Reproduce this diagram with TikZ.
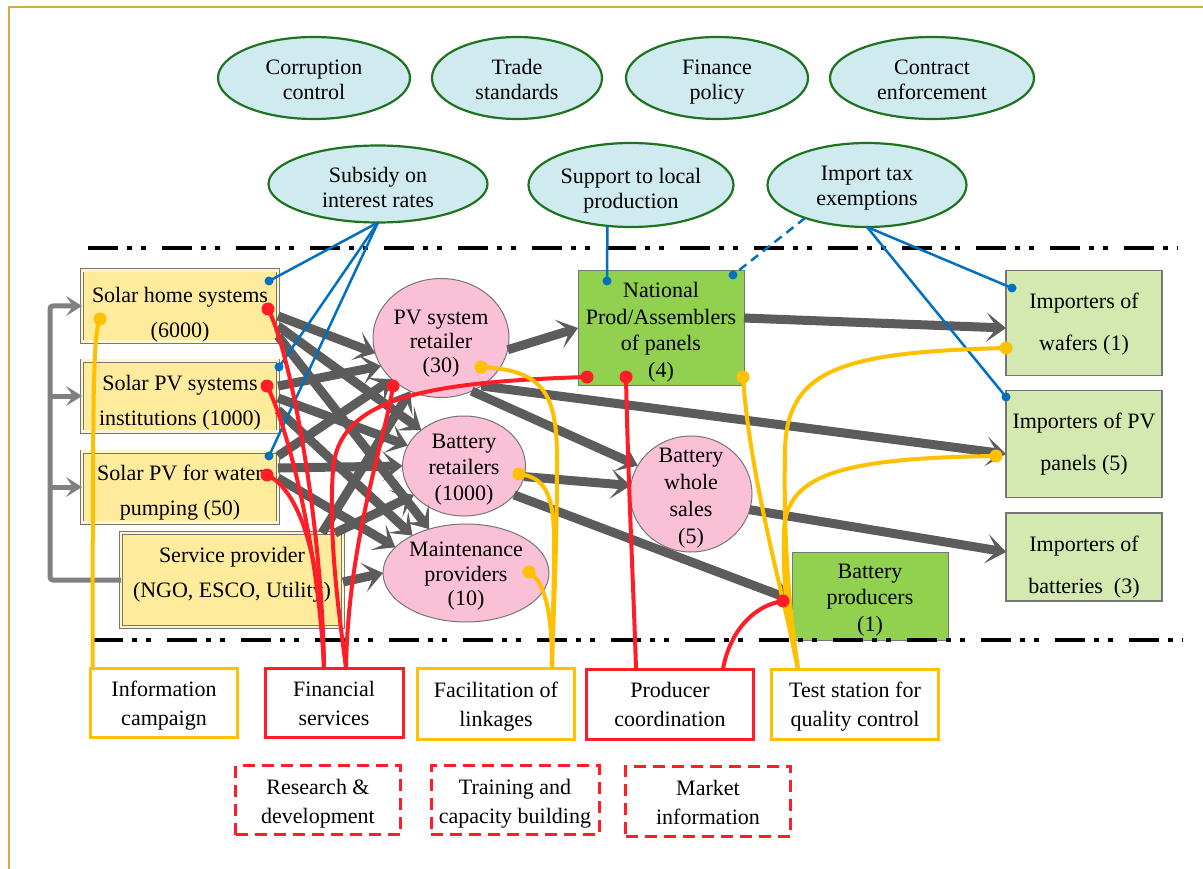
\documentclass[tikz,border=0pt]{standalone}
\usepackage{fontspec}
\setmainfont{Liberation Serif}
\usetikzlibrary{shapes.geometric,arrows.meta}
\definecolor{framec}{RGB}{214,170,60}
\definecolor{polfill}{RGB}{208,235,240}
\definecolor{poldraw}{RGB}{30,115,30}
\definecolor{boxyel}{RGB}{255,235,156}
\definecolor{pinkf}{RGB}{250,192,214}
\definecolor{greenf}{RGB}{146,208,80}
\definecolor{lgreenf}{RGB}{211,233,176}
\definecolor{bordgray}{RGB}{118,118,118}
\definecolor{arrgray}{RGB}{92,92,92}
\definecolor{brkgray}{RGB}{128,128,128}
\definecolor{lblue}{RGB}{0,112,192}
\definecolor{lred}{RGB}{255,30,40}
\definecolor{lyel}{RGB}{255,192,0}
\newcommand{\mytxt}[2][-9pt]{\raisebox{#1}[0pt][0pt]{\begin{tabular}{@{}c@{}}#2\end{tabular}}}
\tikzset{
 nb/.style={inner sep=0pt, outer sep=0pt},
 pol/.style={nb, ellipse, draw=poldraw, line width=2.2pt, fill=polfill, font=\fontsize{22}{25}\selectfont},
 lbox/.style={nb, rectangle, draw=bordgray, line width=0.9pt, double=boxyel!50!white, double distance=2.2pt, fill=boxyel, minimum width=196pt, minimum height=71pt, font=\fontsize{22}{35}\selectfont},
 pinkell/.style={nb, ellipse, draw=bordgray, line width=1pt, fill=pinkf},
 gbox/.style={nb, rectangle, draw=bordgray, line width=1pt, fill=greenf, font=\fontsize{22}{26.5}\selectfont},
 lgbox/.style={nb, rectangle, draw=bordgray, line width=1.2pt, fill=lgreenf, minimum width=156pt, font=\fontsize{22}{42}\selectfont},
 ybox/.style={nb, rectangle, draw=lyel, line width=3pt, fill=white, font=\fontsize{22}{29}\selectfont},
 rbox/.style={nb, rectangle, draw=lred, line width=3pt, fill=white, font=\fontsize{22}{29}\selectfont},
 rdbox/.style={rbox, dash pattern=on 12pt off 7pt},
 ga/.style={draw=arrgray, line width=9pt, -{Stealth[length=20pt,width=30pt,inset=11pt,line width=0pt]}},
 brk/.style={draw=brkgray, line width=5pt},
 brka/.style={brk, -{Stealth[length=16pt,width=20pt,inset=7pt,line width=0pt]}},
 bl/.style={draw=lblue, line width=2.5pt},
 rl/.style={draw=lred, line width=4pt},
 yl/.style={draw=lyel, line width=4pt},
 dd/.style={draw=black, line width=4pt, dash pattern=on 30pt off 9pt on 5pt off 9pt on 5pt off 16pt},
}
\begin{document}
\begin{tikzpicture}[x=1pt,y=-1pt]
\useasboundingbox (0,0) rectangle (1203,869);
\fill[white] (0,0) rectangle (1203,869);
\draw[framec, line width=2.5pt] (9,869) -- (9,7) -- (1203,7);

% policy ellipses
\node[pol, minimum width=192pt, minimum height=82pt] (cc) at (314,78) {\mytxt[-9.5pt]{Corruption\\control}};
\node[pol, minimum width=170pt, minimum height=82pt] (ts) at (517,78) {\mytxt[-9.5pt]{Trade\\standards}};
\node[pol, minimum width=182pt, minimum height=82pt] (fp) at (717,78) {\mytxt[-9.5pt]{Finance\\policy}};
\node[pol, minimum width=204pt, minimum height=82pt] (ce) at (932,78) {\mytxt[-9.5pt]{Contract\\enforcement}};
\node[pol, minimum width=219pt, minimum height=77pt] (sub) at (378,184) {\mytxt[-11pt]{Subsidy on\\interest rates}};
\node[pol, minimum width=205pt, minimum height=84pt] (slp) at (631,185) {\mytxt[-11pt]{Support to local\\production}};
\node[pol, minimum width=199pt, minimum height=84pt] (ite) at (867,185) {\mytxt[-8.5pt]{Import tax\\exemptions}};

% left boxes
\node[lbox] (shs) at (180,306) {\mytxt[-12.5pt]{Solar home systems\\(6000)}};
\node[lbox] (spvi) at (180,396) {\mytxt[-10.5pt]{Solar PV systems\\institutions (1000)}};
\node[lbox] (pw) at (180,487) {\mytxt[-9.5pt]{Solar PV for water\\pumping (50)}};
\node[lbox, minimum width=222pt, minimum height=94pt] (sp) at (232,580) {\mytxt[2pt]{Service provider\\(NGO, ESCO, Utility)}};

% pink ellipses
\node[pinkell, minimum width=136pt, minimum height=119pt, font=\fontsize{22}{24}\selectfont] (pvr) at (441,338) {\mytxt[-10.5pt]{PV system\\retailer\\(30)}};
\node[pinkell, minimum width=123pt, minimum height=100pt, font=\fontsize{22}{26}\selectfont] (br) at (464,466) {\mytxt[-8.5pt]{Battery\\retailers\\(1000)}};
\node[pinkell, minimum width=166pt, minimum height=98pt, font=\fontsize{22}{24.5}\selectfont] (mp) at (466,573) {\mytxt[-8.5pt]{Maintenance\\providers\\(10)}};
\node[pinkell, minimum width=122pt, minimum height=116pt, font=\fontsize{22}{27}\selectfont] (bws) at (691,494) {\mytxt[-8.5pt]{Battery\\whole\\sales\\(5)}};

% green boxes
\node[gbox, minimum width=166pt, minimum height=114pt] (nat) at (661,328) {\mytxt[-9.5pt]{National\\Prod/Assemblers\\of panels\\(4)}};
\node[gbox, minimum width=156pt, minimum height=88pt] (bp) at (870,596) {\mytxt[-8.5pt]{Battery\\producers\\(1)}};

% importers
\node[lgbox, minimum height=105pt] (iw) at (1084,323) {\mytxt[-3pt]{Importers of\\wafers (1)}};
\node[lgbox, minimum height=107pt] (ipv) at (1084,444) {\mytxt[-2pt]{Importers of PV\\panels (5)}};
\node[lgbox, minimum height=88pt] (ib) at (1084,557) {\mytxt[-12.5pt]{Importers of\\batteries\ \ (3)}};

% dash-dot boundaries
\draw[dd] (88,248) -- (1178,248);
\draw[dd] (93,640) -- (1183,640);

% bottom boxes
\node[ybox, minimum width=147pt, minimum height=69pt] (ic) at (164,703) {\mytxt[-7.5pt]{Information\\campaign}};
\node[rbox, minimum width=138pt, minimum height=69pt] (fs) at (334,703) {\mytxt[-7.5pt]{Financial\\services}};
\node[ybox, minimum width=157pt, minimum height=71pt] (fl) at (496,704) {\mytxt[-7.5pt]{Facilitation of\\linkages}};
\node[rbox, minimum width=167pt, minimum height=70pt] (pc) at (670,704) {\mytxt[-7.5pt]{Producer\\coordination}};
\node[ybox, minimum width=167pt, minimum height=70pt] (tsq) at (855,704) {\mytxt[-7.5pt]{Test station for\\quality control}};
\node[rdbox, minimum width=165pt, minimum height=69pt] (rd) at (318,800) {\mytxt[-8.5pt]{Research \&\\development}};
\node[rdbox, minimum width=168pt, minimum height=69pt] (tc) at (515,800) {\mytxt[-8.5pt]{Training and\\capacity building}};
\node[rdbox, minimum width=165pt, minimum height=70pt] (mi) at (708,801) {\mytxt[-8.5pt]{Market\\information}};

% left bracket
\coordinate (bk) at (50,580);
\draw[brka, rounded corners=3pt] (sp.west) -- (bk) -- (bk |- shs.west) -- (shs.west);
\draw[brka] (bk |- spvi.west) -- (spvi.west);
\draw[brka] (bk |- pw.west) -- (pw.west);

% gray arrows
\draw[ga] ([yshift=-10pt]shs.east) -- (pvr.193);
\draw[ga] ([yshift=-20pt]shs.east) -- (br.140);
\draw[ga] ([yshift=-30pt]shs.east) -- (mp.130);
\draw[ga] ([yshift=10pt]spvi.east) -- (pvr.205);
\draw[ga] ([yshift=-2pt]spvi.east) -- (br.160);
\draw[ga] ([yshift=-14pt]spvi.east) -- (mp.145);
\draw[ga] ([yshift=31pt]pw.east) -- (pvr.220);
\draw[ga] ([yshift=19pt]pw.east) -- (br.180);
\draw[ga] ([yshift=9pt]pw.east) -- (mp.160);
\draw[ga] ([xshift=90pt]sp.north) -- (pvr.240);
\draw[ga] ([xshift=103pt]sp.north) -- (br.210);
\draw[ga] ([yshift=-2pt]sp.east) -- (mp.180);
\draw[ga] (pvr.350) -- (nat.west);
\draw[ga] (pvr.310) -- ([yshift=-10pt]ipv.west);
\draw[ga] (pvr.300) -- (bws.152);
\draw[ga] (br.350) -- (bws.172);
\draw[ga] (br.330) -- ([yshift=-4pt]bp.west);
\draw[ga] ([yshift=10pt]nat.east) -- ([yshift=-5pt]iw.west);
\draw[ga] (bws.345) -- ([yshift=5pt]ib.west);

% dot coordinates
\coordinate (shsB) at (269,281);
\coordinate (spviB) at (279,367);
\coordinate (pwB) at (269,456);
\coordinate (natB1) at (607,281);
\coordinate (natB2) at (733,275);
\coordinate (iwB) at (1012,288);
\coordinate (ipvB) at (1006,397);
\coordinate (shsR) at (268,309);
\coordinate (spviR) at (267,386);
\coordinate (pwR) at (267,475);
\coordinate (pvrR) at (393,386);
\coordinate (natR1) at (587,377);
\coordinate (natR2) at (626,377);
\coordinate (bpR) at (783,601);
\coordinate (shsY) at (100,319);
\coordinate (pvrY) at (481,367);
\coordinate (brY) at (519,474);
\coordinate (mpY) at (529,572);
\coordinate (natY) at (743,377);
\coordinate (iwY) at (1006,348);
\coordinate (ipvY) at (996,456);
\coordinate (finA) at ([xshift=-10pt]fs.north);
\coordinate (finB) at ([xshift=12pt]fs.north);
\coordinate (flF) at ([xshift=56pt]fl.north);
\coordinate (pcA) at ([xshift=-34pt]pc.north);
\coordinate (pcB) at ([xshift=53pt]pc.north);
\coordinate (tsT) at ([xshift=-57pt]tsq.north);
\coordinate (icT) at ([xshift=2pt]ic.north west);

% blue lines
\draw[bl] (sub.south) -- (shsB);
\draw[bl] (sub.south) -- (spviB);
\draw[bl] (sub.south) -- (pwB);
\draw[bl] (slp.240) -- (natB1);
\draw[bl, dash pattern=on 9pt off 6pt] (ite.208) -- (natB2);
\draw[bl] (ite.south) -- (iwB);
\draw[bl] (ite.south) -- (ipvB);

% red lines
\draw[rl] (shsR) .. controls (290,350) and (322,520) .. (finA);
\draw[rl] (spviR) .. controls (285,420) and (318,540) .. (finA);
\draw[rl] (pwR) .. controls (300,490) and (322,560) .. (finA);
\draw[rl] (pvrR) .. controls (385,440) and (348,540) .. (finB);
\draw[rl] (natR1) .. controls (420,382) and (338,400) .. (333,470) .. controls (328,540) and (340,620) .. (finB);
\draw[rl] (natR2) .. controls (628,480) and (634,600) .. (pcA);
\draw[rl] (bpR) .. controls (755,605) and (730,630) .. (pcB);

% yellow lines
\draw[yl] (shsY) .. controls (93,335) and (93,380) .. (icT);
\draw[yl] (pvrY) .. controls (545,370) and (557,395) .. (557,460) .. controls (557,560) and (553,620) .. (flF);
\draw[yl] (brY) .. controls (545,477) and (554,495) .. (554,540) .. controls (554,600) and (552,630) .. (flF);
\draw[yl] (mpY) .. controls (545,583) and (552,610) .. (flF);
\draw[yl] (natY) .. controls (750,480) and (785,600) .. (tsT);
\draw[yl] (iwY) .. controls (840,352) and (787,370) .. (785,450) .. controls (783,560) and (792,625) .. (tsT);
\draw[yl] (ipvY) .. controls (840,458) and (787,475) .. (784,530) .. controls (782,600) and (792,640) .. (tsT);

% dots
\foreach \p in {shsB,spviB,pwB,natB1,natB2,iwB,ipvB} \fill[lblue] (\p) circle[radius=4.5pt];
\foreach \p in {shsR,spviR,pwR,pvrR,natR1,natR2,bpR} \fill[lred] (\p) circle[radius=6.5pt];
\foreach \p in {shsY,pvrY,brY,mpY,natY,iwY,ipvY} \fill[lyel] (\p) circle[radius=6.5pt];
\end{tikzpicture}
\end{document}
